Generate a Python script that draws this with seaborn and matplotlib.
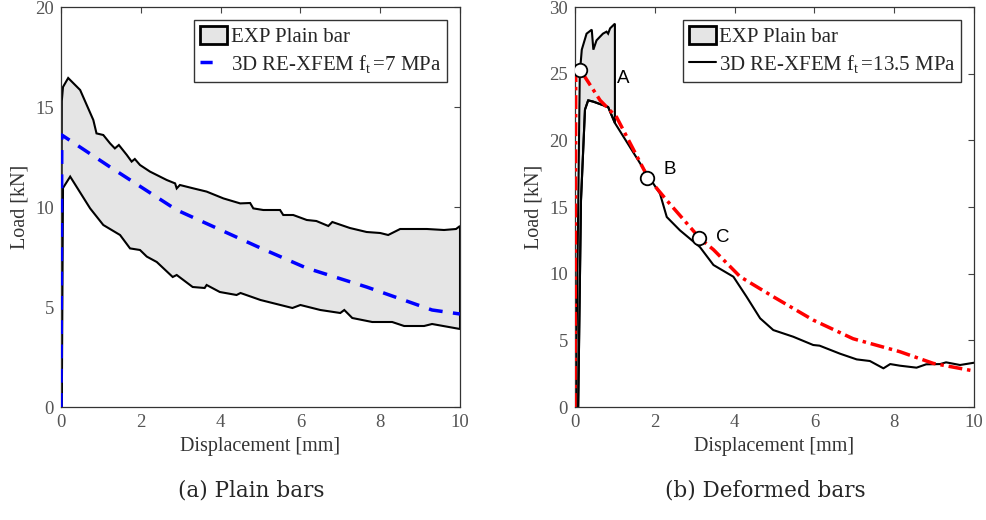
import matplotlib
matplotlib.use("Agg")
import matplotlib.pyplot as plt
import seaborn as sns
import pandas as pd
from matplotlib.patches import Patch
from matplotlib.lines import Line2D

# ---------------- data: (a) plain bars ----------------
a_upper_x = [0, 0.02, 0.05, 0.18, 0.48, 0.81, 0.89, 1.06, 1.23, 1.35, 1.45, 1.65, 1.77, 1.85, 1.98, 2.23, 2.65, 2.86, 2.9, 2.98, 3.32, 3.65, 4.07, 4.49, 4.74, 4.82, 5.07, 5.49, 5.57, 5.82, 6.16, 6.4, 6.7, 6.8, 7.24, 7.66, 8.0, 8.2, 8.5, 9.17, 9.6, 9.9, 10]
a_upper_y = [0, 15.3, 16.0, 16.45, 15.85, 14.35, 13.68, 13.6, 13.18, 12.93, 13.1, 12.6, 12.27, 12.4, 12.1, 11.77, 11.35, 11.18, 10.93, 11.1, 10.93, 10.77, 10.43, 10.18, 10.2, 9.93, 9.85, 9.85, 9.6, 9.6, 9.35, 9.3, 9.05, 9.25, 8.95, 8.75, 8.7, 8.6, 8.9, 8.9, 8.85, 8.9, 9.05]
a_lower_x = [0.02, 0.05, 0.23, 0.73, 1.06, 1.48, 1.73, 1.98, 2.15, 2.4, 2.8, 2.9, 3.3, 3.6, 3.65, 3.98, 4.4, 4.5, 5.0, 5.8, 6.0, 6.5, 7.0, 7.1, 7.3, 7.8, 8.3, 8.6, 9.1, 9.3, 10]
a_lower_y = [0, 10.95, 11.52, 9.93, 9.1, 8.6, 7.93, 7.85, 7.52, 7.25, 6.5, 6.6, 6.0, 5.95, 6.1, 5.75, 5.6, 5.7, 5.35, 4.95, 5.1, 4.85, 4.7, 4.85, 4.45, 4.25, 4.25, 4.05, 4.05, 4.15, 3.9]
a_model_x = [0, 0.02, 1.23, 2.9, 5.0, 6.15, 7.66, 9.3, 10]
a_model_y = [0, 13.6, 12.0, 9.85, 7.95, 6.95, 6.0, 4.85, 4.65]

# ---------------- data: (b) deformed bars ----------------
b_upper_x = [0.02, 0.08, 0.12, 0.17, 0.29, 0.42, 0.46, 0.54, 0.7, 0.79, 0.83, 0.88, 1.0]
b_upper_y = [0, 15.0, 25.0, 26.8, 28.0, 28.3, 26.8, 27.5, 28.0, 28.15, 28.0, 28.4, 28.75]
b_line_x = [0.08, 0.15, 0.25, 0.33, 0.46, 0.83, 1.0, 1.71, 2.13, 2.3, 2.63, 3.13, 3.47, 3.97, 4.3, 4.64, 4.97, 5.47, 5.97, 6.13, 6.64, 7.06, 7.39, 7.73, 7.9, 8.14, 8.56, 8.8, 9.15, 9.3, 9.65, 10.0]
b_line_y = [0, 15.5, 22.3, 23.0, 22.9, 22.5, 21.3, 17.9, 16.0, 14.25, 13.25, 12.0, 10.65, 9.77, 8.27, 6.65, 5.77, 5.27, 4.65, 4.6, 4.0, 3.57, 3.45, 2.9, 3.22, 3.1, 2.95, 3.2, 3.22, 3.35, 3.15, 3.32]
b_red_x = [0, 0.02, 0.13, 0.63, 1.04, 1.84, 2.3, 3.13, 3.47, 4.14, 4.97, 5.97, 6.97, 8.14, 8.98, 10]
b_red_y = [0, 25.6, 25.3, 23.0, 21.75, 17.15, 15.5, 12.65, 11.8, 9.77, 8.27, 6.52, 5.12, 4.15, 3.27, 2.7]
pts_x = [0.13, 1.8, 3.1]
pts_y = [25.3, 17.2, 12.7]
pts_lab = ["A", "B", "C"]

sns.set_theme(style="white")
plt.rcParams['font.family'] = ['Liberation Serif', 'DejaVu Serif']
plt.rcParams['mathtext.fontset'] = 'custom'
plt.rcParams['mathtext.rm'] = 'Liberation Serif'
plt.rcParams['mathtext.it'] = 'Liberation Serif'

fig = plt.figure(figsize=(9.87, 5.2), dpi=100)
ax1 = fig.add_axes([61/987, 113/520, 399/987, 400/520])
ax2 = fig.add_axes([575/987, 113/520, 399/987, 400/520])

grey = '#e5e5e5'
tick_col = '#555555'
leg_fs = 15

# (a)
poly_x = a_upper_x + a_lower_x[::-1]
poly_y = a_upper_y + a_lower_y[::-1]
ax1.fill(poly_x, poly_y, facecolor=grey, edgecolor='black', linewidth=1.5, zorder=1)
dfa = pd.DataFrame({'x': a_model_x, 'y': a_model_y})
sns.lineplot(data=dfa, x='x', y='y', ax=ax1, sort=False, estimator=None,
             color='#0000ff', linewidth=2.5, linestyle=(0, (4, 3)), zorder=3)
ax1.set_xlim(0, 10)
ax1.set_ylim(0, 20)
ax1.set_xticks([0, 2, 4, 6, 8, 10])
ax1.set_yticks([0, 5, 10, 15, 20])
h1 = [Patch(facecolor=grey, edgecolor='black', linewidth=2),
      Line2D([0], [0], color='#0000ff', linewidth=2.5, linestyle=(0, (3.5, 10)))]
ax1.legend(h1, ['EXP Plain bar', r'3D RE-XFEM f$_{\rm t}\,$=7 MPa'], loc='upper right',
           fontsize=leg_fs, frameon=True, fancybox=False, edgecolor='#333333',
           framealpha=1, handlelength=1.3, handleheight=1.0, handletextpad=0.15,
           borderpad=0.3, labelspacing=0.3, borderaxespad=0.6)

# (b)
lower_part_x = [x for x in b_line_x if x <= 1.0]
lower_part_y = b_line_y[:len(lower_part_x)]
pbx = b_upper_x + lower_part_x[::-1]
pby = b_upper_y + lower_part_y[::-1]
ax2.fill(pbx, pby, facecolor=grey, edgecolor='black', linewidth=1.5, zorder=1)
dfb = pd.DataFrame({'x': b_line_x, 'y': b_line_y})
sns.lineplot(data=dfb, x='x', y='y', ax=ax2, sort=False, estimator=None,
             color='black', linewidth=1.5, zorder=2)
dfr = pd.DataFrame({'x': b_red_x, 'y': b_red_y})
sns.lineplot(data=dfr, x='x', y='y', ax=ax2, sort=False, estimator=None,
             color='#ff0000', linewidth=2.5, linestyle=(0, (4, 1.4, 1, 1.4)), zorder=3)
dfp = pd.DataFrame({'x': pts_x, 'y': pts_y})
sns.scatterplot(data=dfp, x='x', y='y', ax=ax2, s=95, facecolor='white',
                edgecolor='black', linewidth=1.3, zorder=5)
offsets = [(1.07, -0.7), (0.58, 0.6), (0.6, 0.05)]
for x, y, lab, (dx, dy) in zip(pts_x, pts_y, pts_lab, offsets):
    ax2.text(x + dx, y + dy, lab, fontsize=13.5, family='Liberation Sans',
             ha='center', va='center', color='black')
ax2.set_xlim(0, 10)
ax2.set_ylim(0, 30)
ax2.set_xticks([0, 2, 4, 6, 8, 10])
ax2.set_yticks([0, 5, 10, 15, 20, 25, 30])
h2 = [Patch(facecolor=grey, edgecolor='black', linewidth=2),
      Line2D([0], [0], color='black', linewidth=1.5)]
ax2.legend(h2, ['EXP Plain bar', r'3D RE-XFEM f$_{\rm t}\,$=13.5 MPa'], loc='upper right',
           fontsize=leg_fs, frameon=True, fancybox=False, edgecolor='#333333',
           framealpha=1, handlelength=1.3, handleheight=1.0, handletextpad=0.1,
           borderpad=0.3, labelspacing=0.3, borderaxespad=0.6)

for ax in (ax1, ax2):
    ax.set_xlabel('Displacement [mm]', fontsize=14.5, color='#333333', labelpad=4)
    ax.set_ylabel('Load [kN]', fontsize=14.5, color='#333333', labelpad=4)
    ax.tick_params(direction='in', top=True, right=True, length=4, width=0.8,
                   colors='#444444', labelcolor=tick_col, labelsize=13.5, pad=5)
    for s in ax.spines.values():
        s.set_color('#333333')
        s.set_linewidth(0.9)

fig.text(251/987, 1 - 491/520, '(a) Plain bars', fontsize=15.5, ha='center', va='center',
         family='DejaVu Serif')
fig.text(765/987, 1 - 491/520, '(b) Deformed bars', fontsize=15.5, ha='center', va='center',
         family='DejaVu Serif')

fig.savefig('out.png', dpi=100)
